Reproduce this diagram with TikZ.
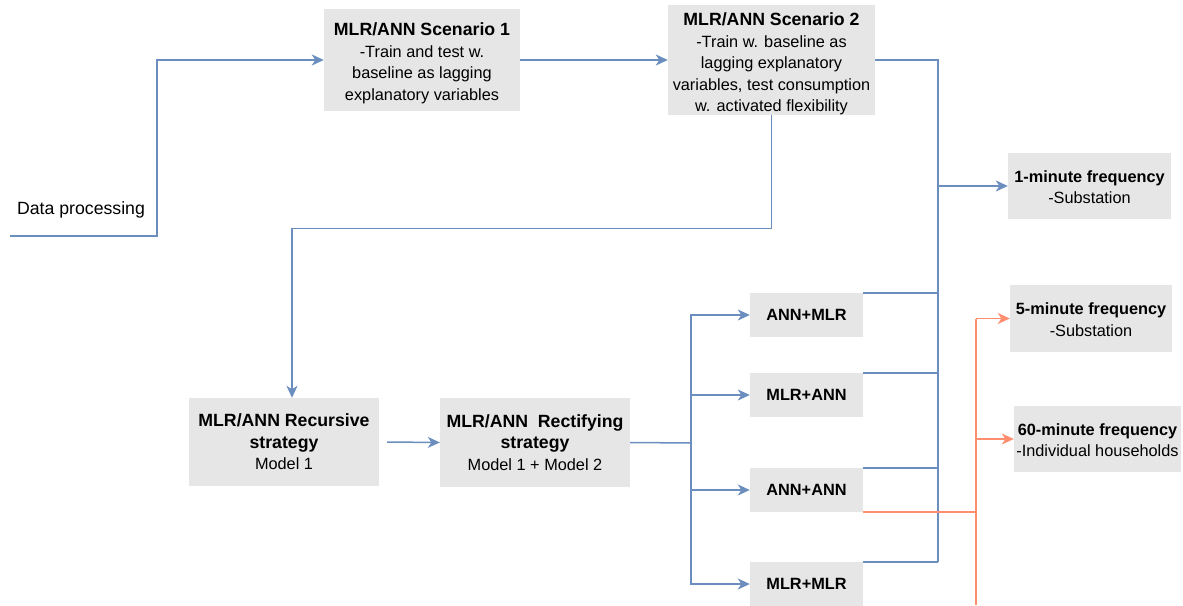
\documentclass[tikz,border=0pt]{standalone}
\usepackage{fontspec}
\setmainfont{Liberation Sans}
\usetikzlibrary{arrows.meta, positioning, calc}
\definecolor{boxfill}{RGB}{230,230,230}
\definecolor{bluline}{RGB}{108,142,191}
\definecolor{orgline}{RGB}{255,142,110}

\begin{document}
\begin{tikzpicture}[
  x=1pt, y=-1pt,
  font=\fontsize{16.3}{21.5}\selectfont,
  box/.style={fill=boxfill, align=center, inner sep=0pt},
  link/.style={line width=1.5pt, draw=bluline},
  flow/.style={link, -{Stealth[length=12pt, width=11pt, inset=3.5pt]}},
  olink/.style={line width=1.5pt, draw=orgline},
  oflow/.style={olink, -{Stealth[length=12pt, width=11pt, inset=3.5pt]}},
]
\useasboundingbox (0,0) rectangle (1183,605);

% top row
\node[font=\fontsize{17.7}{21.5}\selectfont] (dp) at (81,210) {Data processing};
\coordinate (dpin) at (10,236);
\node[box, minimum width=196pt, minimum height=102pt] (s1) at (422,60)
  {\rule{0pt}{19pt}{\fontsize{17.7}{21.5}\selectfont\bfseries MLR/ANN Scenario 1}\\-Train and test w.\\baseline as lagging\\explanatory variables};
\node[box, minimum width=207pt, minimum height=106pt] (s2) at (771.5,60)
  {\rule{0pt}{21pt}{\fontsize{17.7}{21.5}\selectfont\bfseries MLR/ANN Scenario 2}\\-Train w. baseline as\\lagging explanatory\\variables, test consumption\\w. activated flexibility};

% strategies
\node[box, minimum width=190pt, minimum height=88pt] (rec) at (284,442)
  {{\fontsize{17.7}{21.5}\selectfont\bfseries MLR/ANN Recursive}\\{\fontsize{17.7}{21.5}\selectfont\bfseries strategy}\\Model 1};
\node[box, minimum width=190pt, minimum height=89pt] (rect) at (535,442.5)
  {{\fontsize{17.7}{21.5}\selectfont\bfseries MLR/ANN\ \ Rectifying}\\{\fontsize{17.7}{21.5}\selectfont\bfseries strategy}\\Model 1 + Model 2};

% hybrid models
\foreach \nm/\lbl/\yy in {am/ANN+MLR/315, ma/MLR+ANN/395, aa/ANN+ANN/490, mm/MLR+MLR/584}
  \node[box, font=\fontsize{16.3}{21.5}\selectfont\bfseries, minimum width=113pt, minimum height=44pt] (\nm) at (806.5,\yy) {\lbl};

% frequencies
\node[box, minimum width=163pt, minimum height=66pt] (f1) at (1089.5,186)
  {\rule{0pt}{14pt}\textbf{1-minute frequency}\\-Substation};
\node[box, minimum width=162pt, minimum height=67pt] (f5) at (1091,318.5)
  {\rule{0pt}{14pt}\textbf{5-minute frequency}\\-Substation};
\node[box, minimum width=167pt, minimum height=66pt] (f60) at (1097.5,439)
  {\rule{0pt}{14pt}\textbf{60-minute frequency}\\-Individual households};

\coordinate (split) at (691,443);
\coordinate (busb) at (938,562);
\coordinate (obus) at (976,605);

% connectors
\draw[flow] (dpin) -- ++(147,0) |- (s1.west);
\draw[flow] (s1.east) -- (s2.west);
\draw[flow] (s2.south) -- ++(0,113) -| ([xshift=8pt]rec.north);
\draw[flow] ([xshift=8pt]rec.east) -- (rect.west);
\draw[link] (rect.east) -- (split);
\foreach \nm in {am, ma, aa, mm}
  \draw[flow] (split) |- (\nm.west);

\draw[link] (s2.east) -| (busb);
\foreach \nm in {am, ma, aa, mm}
  \draw[link] (\nm.north east) -- (\nm.north east -| busb);
\draw[flow] (f1.west -| busb) -- (f1.west);

\draw[olink] (aa.south east) -- (aa.south east -| obus);
\draw[olink] (obus) -- (obus |- f5.west);
\draw[oflow] (f5.west -| obus) -- (f5.west);
\draw[oflow] (f60.west -| obus) -- (f60.west);
\end{tikzpicture}
\end{document}
